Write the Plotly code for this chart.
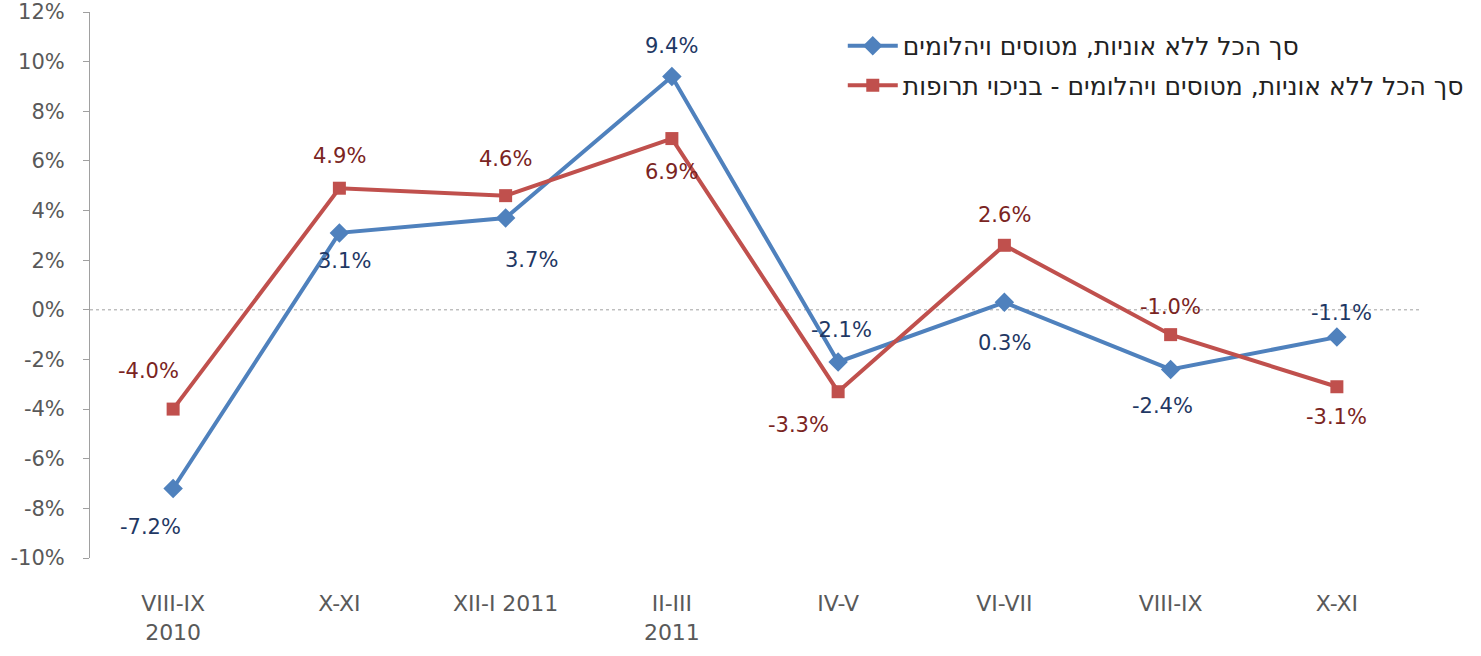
import plotly.graph_objects as go

categories = ["VIII-IX<br>2010", "X-XI", "XII-I 2011", "II-III<br>2011", "IV-V", "VI-VII", "VIII-IX", "X-XI"]
blue_name = "סך הכל ללא אוניות, מטוסים ויהלומים"
red_name = "סך הכל ללא אוניות, מטוסים ויהלומים - בניכוי תרופות"
blue_vals = [-7.2, 3.1, 3.7, 9.4, -2.1, 0.3, -2.4, -1.1]
red_vals = [-4.0, 4.9, 4.6, 6.9, -3.3, 2.6, -1.0, -3.1]
y_ticks = [-10, -8, -6, -4, -2, 0, 2, 4, 6, 8, 10, 12]

# label offsets (px) relative to each marker
blue_shift = [(-23, -38), (5, -28), (26, -42), (0, 31), (3, 32), (0, -41), (-8, -37), (5, 24)]
red_shift = [(-25, 38), (0, 32), (0, 37), (0, -33), (-40, -33), (0, 30), (0, 28), (0, -30)]

x = list(range(len(categories)))
font = "DejaVu Sans, sans-serif"

fig = go.Figure()
fig.add_trace(go.Scatter(
    x=x, y=blue_vals, name=blue_name, mode="lines+markers", legendgroup="a",
    line=dict(color="#4F81BD", width=4),
    marker=dict(symbol="diamond", size=15, color="#4F81BD"),
))
fig.add_trace(go.Scatter(
    x=x, y=red_vals, name=red_name, mode="lines+markers", legendgroup="b",
    line=dict(color="#C0504D", width=4),
    marker=dict(symbol="square", size=13, color="#C0504D"),
))

for vals, shifts, col in [(blue_vals, blue_shift, "#1F3864"), (red_vals, red_shift, "#7A2422")]:
    for i, v in enumerate(vals):
        fig.add_annotation(x=i, y=v, text=f"{v:.1f}%", showarrow=False,
                           xshift=shifts[i][0], yshift=shifts[i][1],
                           font=dict(color=col, size=21, family=font))

# dotted zero line
fig.add_shape(type="line", xref="paper", yref="y", x0=0, x1=1, y0=0, y1=0,
              line=dict(color="#A0A0A0", width=1, dash="dot"), layer="below")

fig.update_layout(
    width=1481, height=656,
    margin=dict(l=90, r=58, t=12, b=98),
    plot_bgcolor="white", paper_bgcolor="white",
    font=dict(family=font, size=19, color="#595959"),
    showlegend=True,
    legend=dict(x=0.566, y=0.98, xanchor="left", yanchor="top",
                bgcolor="rgba(0,0,0,0)", font=dict(size=25, color="#222222"),
                itemwidth=50, traceorder="grouped", tracegroupgap=4),
    xaxis=dict(tickmode="array", tickvals=x, ticktext=categories,
               range=[-0.5, len(categories) - 0.5], showgrid=False,
               zeroline=False, showline=False, ticks="", automargin=False,
               ticklabelstandoff=30, tickfont=dict(size=22)),
    yaxis=dict(range=[-10, 12], tickmode="array", tickvals=y_ticks,
               ticktext=[f"{t}%" for t in y_ticks], showgrid=False,
               zeroline=False, showline=True, linecolor="#A0A0A0", linewidth=1,
               ticks="outside", ticklen=6, tickcolor="#A0A0A0",
               automargin=False, ticklabelstandoff=14, tickfont=dict(size=21)),
)

fig.write_html("out.html", config={"displayModeBar": False},
               post_script="document.body.style.margin='0';")
